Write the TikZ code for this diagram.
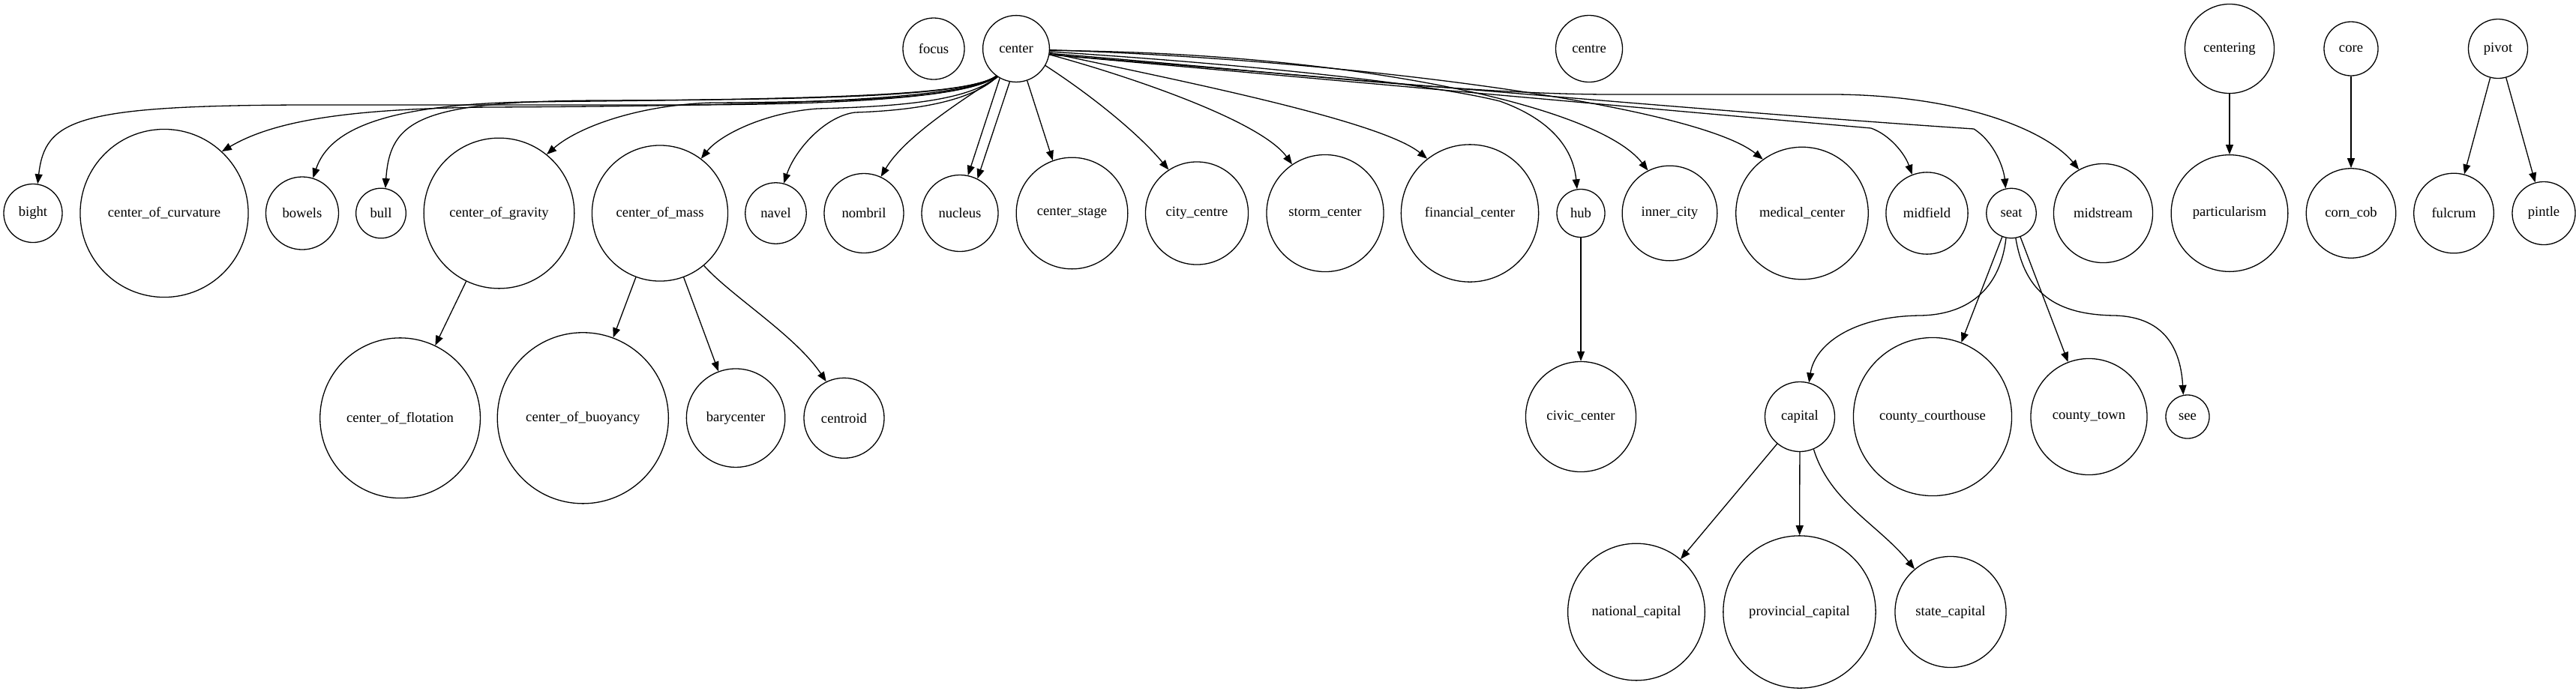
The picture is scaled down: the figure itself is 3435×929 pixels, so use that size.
\documentclass[tikz,border=0pt]{standalone}
\usepackage{fontspec}
\setmainfont{Liberation Serif}
\usetikzlibrary{arrows.meta}
\begin{document}
\begin{tikzpicture}[x=0.01cm,y=-0.01cm,
  nd/.style={draw,circle,inner sep=0pt,line width=0.37pt,font=\fontsize{5.3pt}{6.4pt}\selectfont},
  edge/.style={-{Triangle[length=0.13cm,width=0.1cm]},line width=0.37pt}]
\useasboundingbox (0,0) rectangle (3435,929);
% rank 0
\node[nd,minimum size=0.82cm] (focus) at (1245,65) {focus};
\node[nd,minimum size=0.888cm] (center) at (1355,65) {center};
\node[nd,minimum size=0.89cm] (centre) at (2119,65) {centre};
\node[nd,minimum size=1.19cm] (centering) at (2973,65) {centering};
\node[nd,minimum size=0.72cm] (core) at (3135,65) {core};
\node[nd,minimum size=0.79cm] (pivot) at (3331,65) {pivot};
% rank 1
\node[nd,minimum size=0.78cm] (bight) at (44,284.5) {bight};
\node[nd,minimum size=2.24cm] (cofcurv) at (219,284.5) {center\_of\_curvature};
\node[nd,minimum size=0.97cm] (bowels) at (403,284.5) {bowels};
\node[nd,minimum size=0.666cm] (bull) at (508,284.5) {bull};
\node[nd,minimum size=2.006cm] (cofgrav) at (665.5,284.5) {center\_of\_gravity};
\node[nd,minimum size=1.81cm] (cofmass) at (880,284.5) {center\_of\_mass};
\node[nd,minimum size=0.814cm] (navel) at (1034.5,284.5) {navel};
\node[nd,minimum size=1.06cm] (nombril) at (1152,284.5) {nombril};
\node[nd,minimum size=1.02cm] (nucleus) at (1280,284.5) {nucleus};
\node[nd,minimum size=1.486cm] (cstage) at (1429.5,284.5) {center\_stage};
\node[nd,minimum size=1.37cm] (citycentre) at (1596,284.5) {city\_centre};
\node[nd,minimum size=1.56cm] (storm) at (1767,284.5) {storm\_center};
\node[nd,minimum size=1.832cm] (financial) at (1960,284.5) {financial\_center};
\node[nd,minimum size=0.64cm] (hub) at (2108,284.5) {hub};
\node[nd,minimum size=1.266cm] (innercity) at (2226.5,284.5) {inner\_city};
\node[nd,minimum size=1.764cm] (medical) at (2403,284.5) {medical\_center};
\node[nd,minimum size=1.092cm] (midfield) at (2569.5,284.5) {midfield};
\node[nd,minimum size=0.664cm] (seat) at (2682,284.5) {seat};
\node[nd,minimum size=1.32cm] (midstream) at (2804.5,284.5) {midstream};
\node[nd,minimum size=1.556cm] (particularism) at (2973,284.5) {particularism};
\node[nd,minimum size=1.194cm] (corncob) at (3135,284.5) {corn\_cob};
\node[nd,minimum size=1.066cm] (fulcrum) at (3272,284.5) {fulcrum};
\node[nd,minimum size=0.84cm] (pintle) at (3392,284.5) {pintle};
% rank 2
\node[nd,minimum size=2.136cm] (cofflot) at (533.6,557.7) {center\_of\_flotation};
\node[nd,minimum size=2.28cm] (cofbuoy) at (777.3,557.8) {center\_of\_buoyancy};
\node[nd,minimum size=1.314cm] (barycenter) at (981.1,557.7) {barycenter};
\node[nd,minimum size=1.07cm] (centroid) at (1125.5,557.8) {centroid};
\node[nd,minimum size=1.47cm] (civic) at (2108,556) {civic\_center};
\node[nd,minimum size=0.93cm] (capital) at (2400,556) {capital};
\node[nd,minimum size=2.11cm] (courthouse) at (2577,556) {county\_courthouse};
\node[nd,minimum size=1.55cm] (countytown) at (2785.5,556) {county\_town};
\node[nd,minimum size=0.58cm] (see) at (2917,556) {see};
% rank 3
\node[nd,minimum size=1.826cm] (national) at (2182,816.5) {national\_capital};
\node[nd,minimum size=2.032cm] (provincial) at (2399.5,816.5) {provincial\_capital};
\node[nd,minimum size=1.48cm] (statecap) at (2601,816.5) {state\_capital};
% edges from center, to the left
\draw[edge] (center.235) .. controls (1290,132) and (1100,140) .. (900,140) -- (400,140) .. controls (100,141) and (60,160) .. (bight.81);
\draw[edge] (center.234) .. controls (1290,130) and (1100,141) .. (650,143) .. controls (480,145) and (370,158) .. (cofcurv.47);
\draw[edge] (center.234) .. controls (1290,128) and (1100,132) .. (700,136) .. controls (520,140) and (440,170) .. (bowels.73);
\draw[edge] (center.234) .. controls (1290,128) and (1100,133) .. (800,134) .. controls (560,135) and (520,160) .. (bull.80);
\draw[edge] (center.234) .. controls (1290,130) and (1150,136) .. (950,137) .. controls (850,140) and (770,170) .. (cofgrav.51);
\draw[edge] (center.236) .. controls (1290,135) and (1200,142) .. (1090,145) .. controls (1020,150) and (960,180) .. (cofmass.53);
\draw[edge] (center.236) .. controls (1290,140) and (1200,148) .. (1140,150) .. controls (1100,155) and (1060,200) .. (navel.75);
\draw[edge] (center.237) .. controls (1280,135) and (1205,184) .. (nombril.65);
\draw[edge] (center.241) -- (nucleus.78);
\draw[edge] (center.259) -- (nucleus.63);
% edges from center, to the right
\draw[edge] (center.289) -- (cstage.110);
\draw[edge] (center.330) .. controls (1455,127) and (1518,178) .. (citycentre.123);
\draw[edge] (center.350) .. controls (1500,100) and (1680,160) .. (storm.124);
\draw[edge] (center.353) .. controls (1560,105) and (1840,160) .. (financial.128);
\draw[edge] (center.355) .. controls (1650,85) and (1900,110) .. (2000,135) .. controls (2070,160) and (2098,200) .. (hub.99);
\draw[edge] (center.357) .. controls (1800,70) and (2130,140) .. (innercity.117);
\draw[edge] (center.358) .. controls (1800,80) and (2260,140) .. (medical.126);
\draw[edge] (center.350) .. controls (1700,100) and (2200,145) .. (2495,171) .. controls (2520,180) and (2540,205) .. (midfield.111);
\draw[edge] (center.350) .. controls (1800,105) and (2300,150) .. (2632,172) .. controls (2660,190) and (2672,225) .. (seat.103);
\draw[edge] (center.352) .. controls (1700,95) and (1950,126) .. (2150,126) -- (2450,126) .. controls (2620,128) and (2730,175) .. (midstream.119);
% lower edges
\draw[edge] (cofgrav) -- (cofflot);
\draw[edge] (cofmass) -- (cofbuoy);
\draw[edge] (cofmass) -- (barycenter);
\draw[edge] (cofmass.310) .. controls (975,395) and (1060,447) .. (centroid.116);
\draw[edge] (hub) -- (civic);
\draw[edge] (seat.258) .. controls (2668,380) and (2630,420) .. (2560,421) .. controls (2470,422) and (2420,460) .. (capital.75);
\draw[edge] (seat) -- (courthouse);
\draw[edge] (seat) -- (countytown);
\draw[edge] (seat.280) .. controls (2700,390) and (2740,420) .. (2820,421) .. controls (2890,423) and (2908,470) .. (see.101);
\draw[edge] (capital) -- (national);
\draw[edge] (capital) -- (provincial);
\draw[edge] (capital.293) .. controls (2440,670) and (2505,700) .. (statecap.130);
\draw[edge] (centering) -- (particularism);
\draw[edge] (core) -- (corncob);
\draw[edge] (pivot) -- (fulcrum);
\draw[edge] (pivot) -- (pintle);
\end{tikzpicture}
\end{document}
